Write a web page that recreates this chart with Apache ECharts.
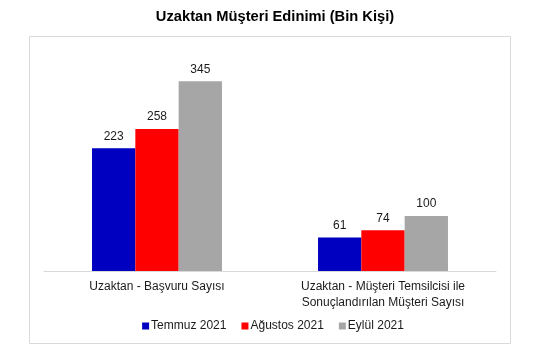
<!DOCTYPE html>
<html>
<head>
<meta charset="utf-8">
<script src="https://cdn.jsdelivr.net/npm/echarts@6/dist/echarts.min.js"></script>
<style>
  html, body { margin: 0; padding: 0; background: #fff; }
  #chart { width: 546px; height: 354px; }
</style>
</head>
<body>
<div id="chart"></div>
<script>
// data
const categories = [
  "Uzaktan - Başvuru Sayısı",
  "Uzaktan - Müşteri Temsilcisi ile\nSonuçlandırılan Müşteri Sayısı"
];
const seriesNames = ["Temmuz 2021", "Ağustos 2021", "Eylül 2021"];
const temmuz = [223, 61];
const agustos = [258, 74];
const eylul = [345, 100];
const colors = ["#0000c0", "#ff0000", "#a6a6a6"];

const font = "Liberation Sans, Arial, sans-serif";
const chart = echarts.init(document.getElementById("chart"));

const mkSeries = (name, data, color) => ({
  name,
  type: "bar",
  data,
  barGap: "0%",
  barCategoryGap: "42.5%",
  itemStyle: { color },
  label: {
    show: true,
    position: "top",
    distance: 6,
    color: "#1a1a1a",
    fontSize: 12,
    fontFamily: font,
  },
});

chart.setOption({
  backgroundColor: "#fff",
  animation: false,
  title: {
    text: "Uzaktan Müşteri Edinimi (Bin Kişi)",
    left: 270,
    textAlign: "center",
    top: 4,
    textStyle: { fontSize: 14.7, fontWeight: "bold", color: "#000", fontFamily: font },
  },
  graphic: [
    {
      type: "rect",
      shape: { x: 29.5, y: 36.5, width: 481, height: 307 },
      style: { fill: "none", stroke: "#d9d9d9", lineWidth: 1 },
      silent: true,
    },
  ],
  legend: {
    data: seriesNames,
    bottom: 17,
    left: "center",
    icon: "rect",
    itemWidth: 7,
    itemHeight: 7,
    itemGap: 15,
    textStyle: { fontSize: 12, color: "#1a1a1a", fontFamily: font, padding: [0, 0, 0, -3] },
  },
  grid: { left: 44, right: 50, top: 51, bottom: 83 },
  xAxis: {
    type: "category",
    data: categories,
    axisLine: { lineStyle: { color: "#d9d9d9" } },
    axisTick: { show: false },
    axisLabel: {
      color: "#1a1a1a",
      fontSize: 12,
      fontFamily: font,
      margin: 8,
      lineHeight: 16,
      interval: 0,
    },
  },
  yAxis: {
    type: "value",
    min: 0,
    max: 400,
    show: false,
    splitLine: { show: false },
  },
  series: [
    mkSeries(seriesNames[0], temmuz, colors[0]),
    mkSeries(seriesNames[1], agustos, colors[1]),
    mkSeries(seriesNames[2], eylul, colors[2]),
  ],
});
</script>
</body>
</html>
